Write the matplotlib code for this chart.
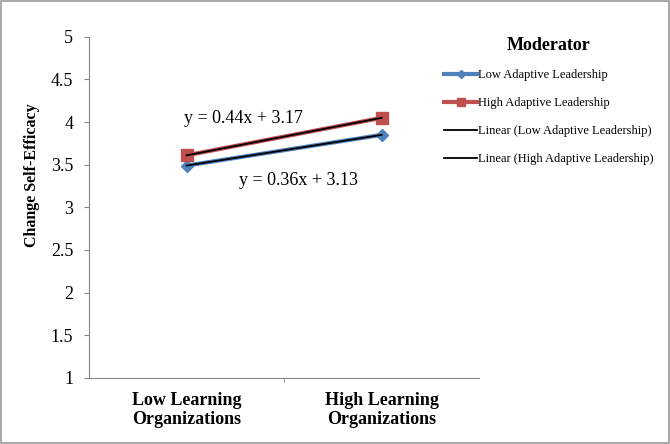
import numpy as np
import matplotlib
matplotlib.use('Agg')
import matplotlib.pyplot as plt
from matplotlib.patches import Rectangle

plt.rcParams['font.family'] = ['Liberation Serif', 'DejaVu Serif']

categories = ['Low Learning\nOrganizations', 'High Learning\nOrganizations']
low_adaptive = [3.49, 3.85]
high_adaptive = [3.61, 4.05]
y_ticks = [1, 1.5, 2, 2.5, 3, 3.5, 4, 4.5, 5]
y_tick_labels = ['1', '1.5', '2', '2.5', '3', '3.5', '4', '4.5', '5']

blue = '#4F81BD'
red = '#C0504D'
spine_gray = '#868686'

fig = plt.figure(figsize=(6.7, 4.44), dpi=100)
ax = fig.add_axes([0.133, 0.149, 0.582, 0.768])

x = np.arange(1, len(categories) + 1)
ax.plot(x, low_adaptive, color=blue, lw=3, marker='D', ms=6,
        label='Low Adaptive Leadership')
ax.plot(x, high_adaptive, color=red, lw=3, marker='s', ms=9,
        label='High Adaptive Leadership')

# linear trend lines
p_low = np.polyfit(x, low_adaptive, 1)
p_high = np.polyfit(x, high_adaptive, 1)
ax.plot(x, np.polyval(p_low, x), color='black', lw=1.3,
        label='Linear (Low Adaptive Leadership)')
ax.plot(x, np.polyval(p_high, x), color='black', lw=1.3,
        label='Linear (High Adaptive Leadership)')

ax.text(0.985, 4.04, 'y = %.2fx + %.2f' % (p_high[0], p_high[1]),
        fontsize=13, va='center', ha='left')
ax.text(1.27, 3.32, 'y = %.2fx + %.2f' % (p_low[0], p_low[1]),
        fontsize=13, va='center', ha='left')

ax.set_xlim(0.5, 2.5)
ax.set_ylim(1, 5)
ax.set_yticks(y_ticks)
ax.set_yticklabels(y_tick_labels, fontsize=13)
ax.set_xticks(x)
ax.set_xticklabels(categories, fontsize=13, fontweight='bold', linespacing=1.2)
ax.tick_params(axis='x', length=0, pad=10)
ax.set_xticks([1.5], minor=True)
ax.tick_params(axis='x', which='minor', length=3, color=spine_gray, direction='out')
ax.tick_params(axis='y', length=3.5, color=spine_gray, direction='out', pad=8)
ax.set_ylabel('Change Self-Efficacy', fontsize=11.5, fontweight='bold')
ax.yaxis.set_label_coords(-0.126, 0.595)

for side in ['top', 'right']:
    ax.spines[side].set_visible(False)
for side in ['left', 'bottom']:
    ax.spines[side].set_color(spine_gray)

leg = ax.legend(loc='upper left', bbox_to_anchor=(0.646, 0.943),
                bbox_transform=fig.transFigure, frameon=False,
                title='Moderator', fontsize=9, handlelength=2.64,
                labelspacing=1.27, handletextpad=0.1, markerscale=0.7)
leg.get_title().set_fontweight('bold')
leg.get_title().set_fontsize(13)
leg._legend_box.align = 'center'

# outer chart border
fig.patches.append(Rectangle((0.002, 0.003), 0.996, 0.994, transform=fig.transFigure,
                             fill=False, edgecolor='#999999', lw=1.2))

fig.savefig('out.png', dpi=100)
